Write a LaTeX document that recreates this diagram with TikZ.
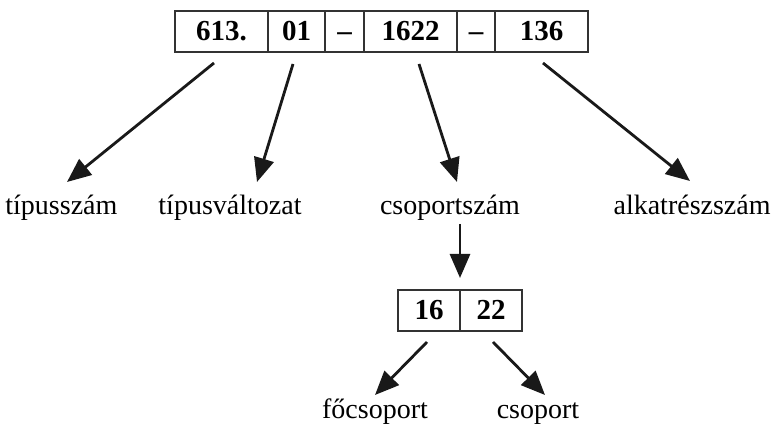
\documentclass[tikz,border=0pt]{standalone}
\usepackage{fontspec}
\setmainfont{Liberation Serif}
\usetikzlibrary{arrows.meta}
\begin{document}
\begin{tikzpicture}[x=0.5pt,y=-0.5pt,
  cell/.style={draw=black!80, line width=0.6pt, inner sep=0pt, minimum height=20.5pt, text height=10pt, text depth=0.5pt, font=\fontsize{14.5}{17}\selectfont\bfseries},
  lbl/.style={inner sep=0pt, anchor=base, font=\fontsize{14}{17}\selectfont},
  arr/.style={line width=1.4pt, draw=black!90, -{Triangle[length=12pt,width=10pt]}}]
\useasboundingbox (0,0) rectangle (773,427);
% top code box
\node[cell, minimum width=46.5pt] (c1) at (221.5,31.5) {613.};
\node[cell, minimum width=28.5pt] (c2) at (296.5,31.5) {01};
\node[cell, minimum width=19.5pt] (c3) at (344.5,31.5) {–};
\node[cell, minimum width=46.5pt] (c4) at (410.5,31.5) {1622};
\node[cell, minimum width=19pt] (c5) at (476,31.5) {–};
\node[cell, minimum width=46.5pt] (c6) at (541.5,31.5) {136};
% labels
\node[lbl, anchor=base west] (l1) at (5,215) {típusszám};
\node[lbl] (l2) at (230,215) {típusváltozat};
\node[lbl] (l3) at (450,215) {csoportszám};
\node[lbl, anchor=base east] (l4) at (771,215) {alkatrészszám};
% connector ends
\coordinate (s1) at (214,63); \coordinate (t1) at (67,182);
\coordinate (s2) at (293,64); \coordinate (t2) at (257,182);
\coordinate (s3) at (419,64); \coordinate (t3) at (457,182);
\coordinate (s4) at (543,63); \coordinate (t4) at (690,181);
\draw[arr] (s1) -- (t1);
\draw[arr] (s2) -- (t2);
\draw[arr] (s3) -- (t3);
\draw[arr] (s4) -- (t4);
% sub box
\node[cell, minimum width=31pt] (d1) at (429,310.5) {16};
\node[cell, minimum width=31pt] (d2) at (491,310.5) {22};
\coordinate (s5) at (460,224); \coordinate (t5) at (460,278);
\draw[arr] (s5) -- (t5);
% bottom labels
\node[lbl] (l5) at (375,419) {főcsoport};
\node[lbl] (l6) at (538,419) {csoport};
\coordinate (s6) at (427,342); \coordinate (t6) at (375,395);
\coordinate (s7) at (493,342); \coordinate (t7) at (545,395);
\draw[arr] (s6) -- (t6);
\draw[arr] (s7) -- (t7);
\end{tikzpicture}
\end{document}
